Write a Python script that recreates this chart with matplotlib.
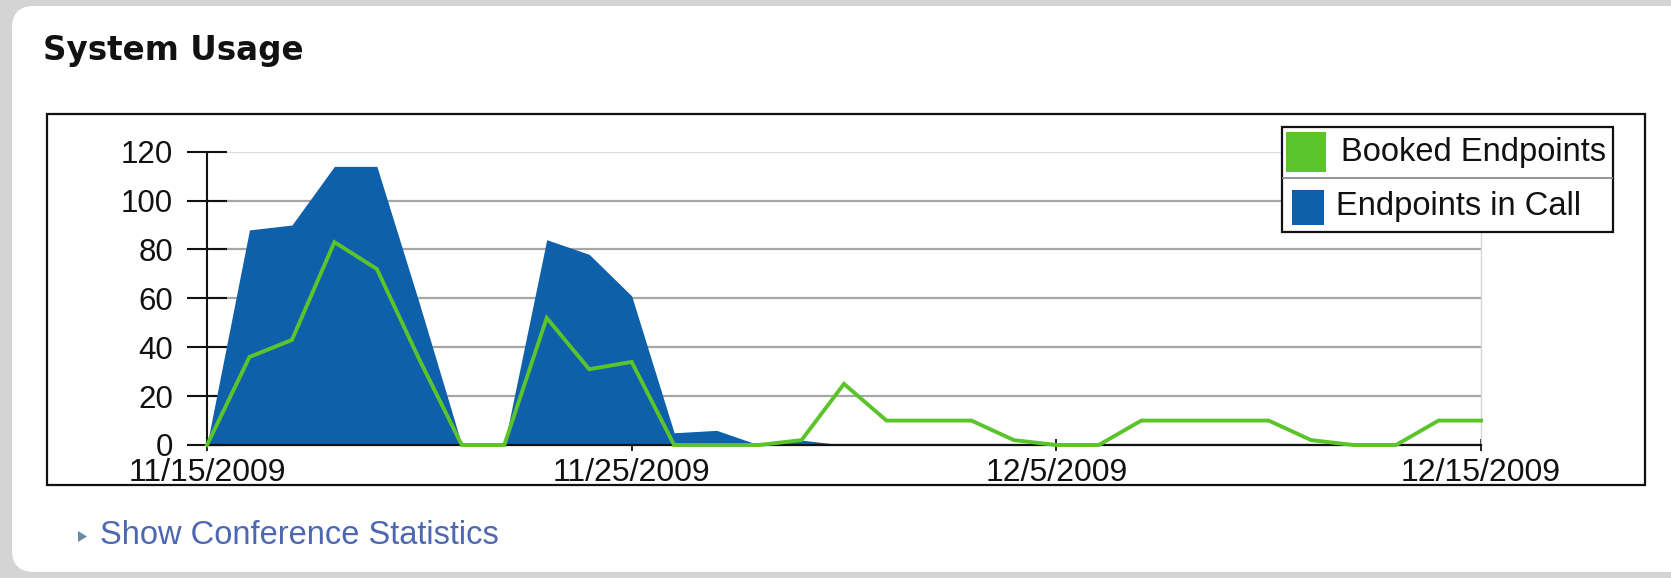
import numpy as np
import pandas as pd
import matplotlib
matplotlib.use("Agg")
import matplotlib.pyplot as plt
import matplotlib.dates as mdates
from matplotlib.patches import Rectangle, FancyBboxPatch, Polygon
from matplotlib.lines import Line2D
from matplotlib.transforms import Affine2D

W, H = 1671, 578

dates = pd.date_range("2009-11-15", "2009-12-15", freq="D")
booked = [0, 36, 43, 83, 72, 35, 0, 0, 52, 31, 34, 0, 0, 0, 2, 25,
          10, 10, 10, 2, 0, 0, 10, 10, 10, 10, 2, 0, 0, 10, 10]
in_call = [0, 88, 90, 114, 114, 58, 0, 0, 84, 78, 61, 5, 6, 0, 2, 0,
           0, 0, 0, 0, 0, 0, 0, 0, 0, 0, 0, 0, 0, 0, 0]
y_ticks = [0, 20, 40, 60, 80, 100, 120]
x_ticks = pd.to_datetime(["2009-11-15", "2009-11-25", "2009-12-05", "2009-12-15"])
x_labels = ["11/15/2009", "11/25/2009", "12/5/2009", "12/15/2009"]
series_names = ["Booked Endpoints", "Endpoints in Call"]

GREEN = "#5cc42b"
BLUE = "#0e60ab"
FONT = "Liberation Sans"

fig = plt.figure(figsize=(W / 100, H / 100), dpi=100, facecolor="#d4d4d4")
# pixel coords, origin top-left
pix = Affine2D().scale(1, -1).translate(0, H).scale(1 / W, 1 / H) + fig.transFigure

# white rounded panel
fig.patches.append(FancyBboxPatch((12, 6), 1720, 566, boxstyle="round,pad=0,rounding_size=22",
                                  facecolor="white", edgecolor="none", transform=pix, zorder=-5))

fig.text(43, 60, "System Usage", transform=pix, fontsize=23.5, fontweight="bold",
         family="DejaVu Sans", color="#111111", va="baseline", ha="left")

# chart frame
fig.patches.append(Rectangle((47, 114), 1598, 371, fill=False, edgecolor="#111111",
                             linewidth=1.6, transform=pix, zorder=3))

x0, x1, ytop, ybot = 207, 1481, 151.7, 445
ax = fig.add_axes([x0 / W, (H - ybot) / H, (x1 - x0) / W, (ybot - ytop) / H])
ax.set_facecolor("none")

ax.fill_between(dates, 0, in_call, color=BLUE, linewidth=0, zorder=2)
ax.plot(dates, booked, color=GREEN, linewidth=2.8, zorder=4, clip_on=False,
        solid_joinstyle="miter")

ax.set_xlim(dates[0], dates[-1])
ax.set_ylim(0, 120)
ax.set_yticks(y_ticks)
ax.set_yticklabels([str(v) for v in y_ticks])
ax.set_xticks(x_ticks)
ax.set_xticklabels(x_labels)

ax.yaxis.grid(True, color="#a6a6a6", linewidth=1.6, zorder=1)
ax.set_axisbelow(True)
ax.get_ygridlines()[-1].set_color("#dcdcdc")

ax.spines["top"].set_visible(False)
ax.spines["right"].set_color("#d6d6d6")
ax.spines["right"].set_linewidth(1.0)
ax.spines["left"].set_linewidth(1.5)
ax.spines["bottom"].set_linewidth(1.6)
ax.spines["left"].set_color("#111111")
ax.spines["bottom"].set_color("#111111")
ax.spines["bottom"].set_zorder(3)

ax.tick_params(axis="y", direction="inout", length=29, width=1.5, pad=10,
               labelsize=22.5, colors="#111111")
ax.tick_params(axis="x", direction="inout", length=9, width=1.3, pad=5,
               labelsize=23, colors="#111111")
for lab in ax.get_xticklabels() + ax.get_yticklabels():
    lab.set_family(FONT)

# legend
fig.patches.append(Rectangle((1282, 127), 331, 105, facecolor="white", edgecolor="#111111",
                             linewidth=1.6, transform=pix, zorder=5))
fig.lines.append(Line2D([1283, 1612], [178, 178], color="#8a8a8a", linewidth=1.3,
                        transform=pix, zorder=6))
fig.patches.append(Rectangle((1286, 132), 40, 40, facecolor=GREEN, edgecolor="none",
                             transform=pix, zorder=6))
fig.patches.append(Rectangle((1292, 190), 32, 35, facecolor=BLUE, edgecolor="none",
                             transform=pix, zorder=6))
fig.text(1341, 153, series_names[0], transform=pix, fontsize=23.5, family=FONT,
         color="#111111", va="center", ha="left", zorder=7)
fig.text(1336, 207, series_names[1], transform=pix, fontsize=23.5, family=FONT,
         color="#111111", va="center", ha="left", zorder=7)

# link
fig.patches.append(Polygon([(78, 531), (87, 536.5), (78, 542)], closed=True,
                           facecolor="#6b8aa3", edgecolor="none", transform=pix))
fig.text(100, 536, "Show Conference Statistics", transform=pix, fontsize=23.5,
         family=FONT, color="#4d67b0", va="center", ha="left")

fig.savefig("out.png", dpi=100, facecolor=fig.get_facecolor())
